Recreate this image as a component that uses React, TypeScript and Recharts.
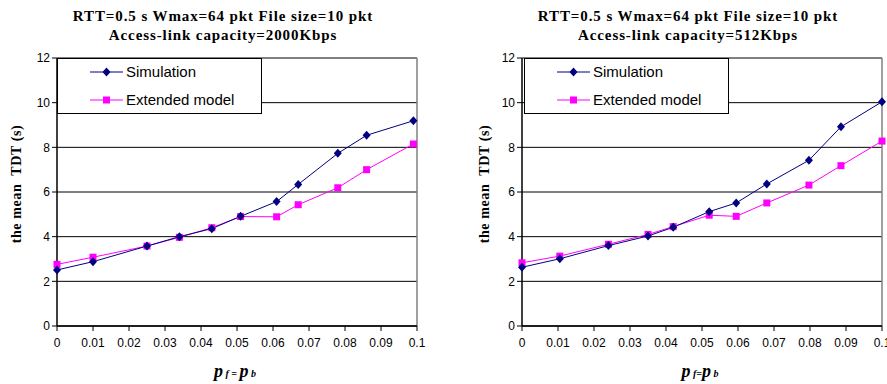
import React from "react";
import { LineChart, Line, XAxis, YAxis, CartesianGrid, ReferenceLine } from "recharts";

// values
const X_TICKS = [0, 0.01, 0.02, 0.03, 0.04, 0.05, 0.06, 0.07, 0.08, 0.09, 0.1];
const Y_TICKS = [0, 2, 4, 6, 8, 10, 12];

const LEFT_X = [0, 0.01, 0.025, 0.034, 0.043, 0.051, 0.061, 0.067, 0.078, 0.086, 0.099];
const LEFT_SIM = [2.51, 2.88, 3.58, 4.0, 4.36, 4.91, 5.57, 6.34, 7.73, 8.54, 9.19];
const LEFT_EXT = [2.76, 3.08, 3.58, 3.97, 4.4, 4.9, 4.89, 5.43, 6.19, 7.0, 8.15];

const RIGHT_X = [0, 0.0105, 0.024, 0.035, 0.042, 0.052, 0.0595, 0.068, 0.0797, 0.0886, 0.1];
const RIGHT_SIM = [2.63, 3.01, 3.6, 4.03, 4.42, 5.12, 5.51, 6.36, 7.42, 8.92, 10.04];
const RIGHT_EXT = [2.83, 3.13, 3.66, 4.1, 4.45, 4.96, 4.91, 5.51, 6.31, 7.18, 8.28];

const TITLE_1 = "RTT=0.5 s Wmax=64 pkt File size=10 pkt";
const LEFT_TITLE_2 = "Access-link capacity=2000Kbps";
const RIGHT_TITLE_2 = "Access-link capacity=512Kbps";
const Y_LABEL = "the mean  TDT (s)";

const SIM_COLOR = "#000080";
const EXT_COLOR = "#ff00ff";

const SANS = "'Liberation Sans', Arial, sans-serif";
const SERIF = "'Liberation Serif', 'Times New Roman', serif";

function build(xs: number[], sim: number[], ext: number[]) {
  return xs.map((x, i) => ({ x, sim: sim[i], ext: ext[i] }));
}

const Diamond = (props: any) => {
  const { cx, cy, index } = props;
  if (cx == null || cy == null) return <g key={index} />;
  return (
    <polygon
      key={index}
      points={`${cx},${cy - 4.5} ${cx + 4},${cy} ${cx},${cy + 4.5} ${cx - 4},${cy}`}
      fill={SIM_COLOR}
    />
  );
};

const Square = (props: any) => {
  const { cx, cy, index } = props;
  if (cx == null || cy == null) return <g key={index} />;
  return <rect key={index} x={cx - 3.5} y={cy - 3.5} width={7} height={7} fill={EXT_COLOR} />;
};

function LegendBox({ left }: { left: number }) {
  const row = (label: string, color: string, square: boolean, top: number) => (
    <div style={{ position: "absolute", left: 0, top, height: 20, width: "100%" }}>
      <svg width={40} height={20} style={{ position: "absolute", left: 30, top: 0 }}>
        <line x1={2} y1={10} x2={35} y2={10} stroke={color} strokeWidth={1} />
        {square ? (
          <rect x={15} y={6.5} width={7} height={7} fill={color} />
        ) : (
          <polygon points="18.5,5.5 22.5,10 18.5,14.5 14.5,10" fill={color} />
        )}
      </svg>
      <span
        style={{
          position: "absolute",
          left: 68,
          top: 0,
          lineHeight: "20px",
          fontSize: 15,
          fontFamily: SANS,
          color: "#000",
          whiteSpace: "nowrap",
        }}
      >
        {label}
      </span>
    </div>
  );
  return (
    <div
      style={{
        position: "absolute",
        left,
        top: 58,
        width: 205,
        height: 56,
        background: "#fff",
        border: "1px solid #000",
        boxSizing: "border-box",
      }}
    >
      {row("Simulation", SIM_COLOR, false, 3)}
      {row("Extended model", EXT_COLOR, true, 31)}
    </div>
  );
}

function Panel({
  left,
  width,
  margin,
  data,
  title2,
  legendLeft,
  yLabelX,
  xLabelX,
  xLabelSpaced,
}: {
  left: number;
  width: number;
  margin: { top: number; right: number; bottom: number; left: number };
  data: { x: number; sim: number; ext: number }[];
  title2: string;
  legendLeft: number;
  yLabelX: number;
  xLabelX: number;
  xLabelSpaced: boolean;
}) {
  const plotLeft = margin.left + 45;
  const plotRight = width - margin.right;
  const titleCenter = (plotLeft + plotRight) / 2 - 14;
  return (
    <div style={{ position: "absolute", left, top: 0, width, height: 384 }}>
      <div
        style={{
          position: "absolute",
          left: titleCenter - 200,
          width: 400,
          top: 7,
          textAlign: "center",
          fontFamily: SERIF,
          fontWeight: "bold",
          fontSize: 15,
          letterSpacing: 0.9,
          lineHeight: "18.5px",
          color: "#000",
        }}
      >
        <div>{TITLE_1}</div>
        <div>{title2}</div>
      </div>
      <LineChart width={width} height={384} data={data} margin={margin}>
        <CartesianGrid vertical={false} stroke="#000" strokeWidth={1} />
        <XAxis
          dataKey="x"
          type="number"
          domain={[0, 0.1]}
          ticks={X_TICKS}
          tickFormatter={(v) => String(v)}
          height={30}
          interval={0}
          tickSize={5}
          tickMargin={7}
          axisLine={{ stroke: "#000", strokeWidth: 1.5 }}
          tickLine={{ stroke: "#000" }}
          tick={{ fill: "#000", fontSize: 12, fontFamily: SANS }}
        />
        <YAxis
          type="number"
          domain={[0, 12]}
          ticks={Y_TICKS}
          width={45}
          interval={0}
          tickSize={5}
          axisLine={{ stroke: "#000", strokeWidth: 1.5 }}
          tickLine={{ stroke: "#000" }}
          tick={{ fill: "#000", fontSize: 12, fontFamily: SANS }}
        />
        <ReferenceLine x={0.1} stroke="#808080" strokeWidth={1.5} />
        <Line
          dataKey="ext"
          stroke={EXT_COLOR}
          strokeWidth={1}
          dot={Square}
          activeDot={false}
          isAnimationActive={false}
        />
        <Line
          dataKey="sim"
          stroke={SIM_COLOR}
          strokeWidth={1}
          dot={Diamond}
          activeDot={false}
          isAnimationActive={false}
        />
      </LineChart>
      <LegendBox left={legendLeft} />
      <div
        style={{
          position: "absolute",
          left: yLabelX - 100,
          top: 184 - 10,
          width: 200,
          height: 20,
          lineHeight: "20px",
          textAlign: "center",
          transform: "rotate(-90deg)",
          fontFamily: SERIF,
          fontWeight: "bold",
          fontSize: 14,
          letterSpacing: 0.6,
          color: "#000",
          whiteSpace: "pre",
        }}
      >
        {Y_LABEL}
      </div>
      <div
        style={{
          position: "absolute",
          left: xLabelX - 60,
          width: 120,
          top: 362,
          textAlign: "center",
          fontFamily: SERIF,
          fontWeight: "bold",
          fontStyle: "italic",
          color: "#000",
          whiteSpace: "nowrap",
          lineHeight: "18px",
        }}
      >
        <span style={{ fontSize: 18 }}>p</span>
        <span style={{ fontSize: 10 }}>{xLabelSpaced ? " f = " : " f="}</span>
        <span style={{ fontSize: 18 }}>p</span>
        <span style={{ fontSize: 10 }}> b</span>
      </div>
    </div>
  );
}

export default function App() {
  return (
    <div
      style={{
        position: "absolute",
        left: 0,
        top: 0,
        width: 887,
        height: 384,
        overflow: "hidden",
        background: "#fff",
      }}
    >
      <Panel
        left={0}
        width={445}
        margin={{ top: 58, right: 28, bottom: 28, left: 12 }}
        data={build(LEFT_X, LEFT_SIM, LEFT_EXT)}
        title2={LEFT_TITLE_2}
        legendLeft={57}
        yLabelX={17}
        xLabelX={235}
        xLabelSpaced={true}
      />
      <Panel
        left={445}
        width={450}
        margin={{ top: 58, right: 13, bottom: 28, left: 32 }}
        data={build(RIGHT_X, RIGHT_SIM, RIGHT_EXT)}
        title2={RIGHT_TITLE_2}
        legendLeft={79}
        yLabelX={40}
        xLabelX={255}
        xLabelSpaced={false}
      />
    </div>
  );
}
